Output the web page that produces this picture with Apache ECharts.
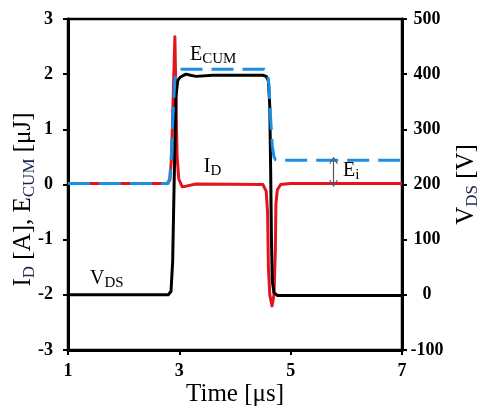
<!DOCTYPE html>
<html>
<head>
<meta charset="utf-8">
<script src="https://cdn.jsdelivr.net/npm/echarts@6/dist/echarts.min.js"></script>
<style>
  html, body { margin: 0; padding: 0; background: #fff; }
  #chart { width: 480px; height: 415px; }
</style>
</head>
<body>
<div id="chart"></div>
<script>
// Drain current I_D [A] during turn-on / turn-off (time in µs)
const idTime   = [1.0, 2.78, 2.83, 2.86, 2.89, 2.92, 2.94, 2.96, 2.99, 3.05, 3.12, 3.3, 4.5, 4.53, 4.56, 4.585, 4.60, 4.625, 4.665, 4.70, 4.725, 4.735, 4.76, 4.82, 5.0, 7.0];
const idValues = [0.02, 0.02, 0.08, 0.5, 1.6, 2.68, 1.5, 0.5, 0.1, -0.04, -0.03, 0.01, 0.0, -0.03, -0.12, -0.5, -1.5, -2.0, -2.2, -2.0, -1.2, -0.35, -0.1, 0.0, 0.02, 0.02];

// Drain-source voltage V_DS [V]
const vdsTime   = [1.0, 2.80, 2.85, 2.88, 2.91, 2.94, 2.97, 3.01, 3.06, 3.12, 3.2, 3.3, 3.6, 4.0, 4.5, 4.56, 4.60, 4.625, 4.64, 4.655, 4.67, 4.70, 4.76, 5.0, 7.0];
const vdsValues = [0, 0, 6, 60, 220, 360, 388, 394, 397, 400, 398, 396, 398, 398, 398, 396, 388, 340, 230, 100, 25, 4, -1, -1, -1];

// Cumulative switching energy E_CUM [µJ]
const ecumTime   = [1.0, 2.80, 2.83, 2.86, 2.89, 2.92, 2.95, 2.99, 3.04, 3.1, 4.0, 4.53, 4.58, 4.61, 4.64, 4.67, 4.70, 4.73, 4.78, 7.0];
const ecumValues = [0.02, 0.02, 0.12, 0.6, 1.35, 1.9, 2.03, 2.08, 2.09, 2.09, 2.09, 2.09, 2.04, 1.8, 1.2, 0.7, 0.5, 0.45, 0.44, 0.44];

// Ei marker: time and the two levels it spans (E_CUM residue vs. I_D baseline)
const eiMarkTime = 5.77;
const eiMarkFrom = 0.44;
const eiMarkTo   = 0.02;

// Axis ranges [min, max, interval]
const timeRange = [1, 7, 2];
const leftRange = [-3, 3, 1];
const rightRange = [-100, 500, 100];

const pair = (xs, ys) => xs.map((x, i) => [x, ys[i]]);

const SERIF = '"Liberation Serif", "Times New Roman", serif';
const RED = '#e3141c';
const BLUE = '#1b8fe6';
const SUBCOL = '#1c2550';

const tickLabel = {
  fontFamily: SERIF, fontWeight: 'bold', fontSize: 18, color: '#000'
};

// Rich-text styles for a main glyph followed by a lowered subscript
function richSet(main, sub, color, subColor) {
  return {
    m: { fontFamily: SERIF, fontSize: main, lineHeight: main + 4, verticalAlign: 'middle', color: color },
    s: { fontFamily: SERIF, fontSize: sub, verticalAlign: 'bottom', color: subColor || color }
  };
}

const chart = echarts.init(document.getElementById('chart'), null, { renderer: 'canvas' });

const option = {
  animation: false,
  backgroundColor: '#fff',
  grid: {
    left: 68, right: 78, top: 19, bottom: 65,
    outerBoundsMode: 'none',
    containLabel: false,
    show: true, borderColor: '#000', borderWidth: 2.5
  },
  xAxis: {
    type: 'value',
    min: timeRange[0], max: timeRange[1], interval: timeRange[2],
    name: 'Time [μs]',
    nameLocation: 'middle',
    nameGap: 32,
    nameMoveOverlap: false,
    nameTextStyle: { fontFamily: SERIF, fontSize: 25, color: '#000' },
    axisLine: { show: true, onZero: false, lineStyle: { color: '#000', width: 3 } },
    axisTick: { show: true, inside: false, length: 5, lineStyle: { color: '#000', width: 2 } },
    axisLabel: Object.assign({ margin: 12 }, tickLabel),
    splitLine: { show: false }
  },
  yAxis: [
    {
      type: 'value',
      position: 'left',
      min: leftRange[0], max: leftRange[1], interval: leftRange[2],
      name: '{m|I}{s|D}{m| [A], E}{s|CUM}{m| [μJ]}',
      nameLocation: 'middle',
      nameRotate: 90,
      nameGap: 30,
      nameMoveOverlap: false,
      nameTextStyle: { padding: [0, 30, 0, 0], rich: richSet(25, 17, '#000', SUBCOL) },
      axisLine: { show: true, onZero: false, lineStyle: { color: '#000', width: 3 } },
      axisTick: { show: true, inside: false, length: 5, lineStyle: { color: '#000', width: 2 } },
      axisLabel: Object.assign({ margin: 15 }, tickLabel),
      splitLine: { show: false }
    },
    {
      type: 'value',
      position: 'right',
      min: rightRange[0], max: rightRange[1], interval: rightRange[2],
      name: '{m|V}{s|DS}{m| [V]}',
      nameLocation: 'middle',
      nameRotate: 90,
      nameGap: 36,
      nameTextStyle: { rich: richSet(25, 17, '#000', SUBCOL) },
      axisLine: { show: true, onZero: false, lineStyle: { color: '#000', width: 3 } },
      axisTick: { show: true, inside: false, length: 5, lineStyle: { color: '#000', width: 2 } },
      axisLabel: Object.assign({ margin: 25, align: 'center' }, tickLabel),
      splitLine: { show: false }
    }
  ],
  series: [
    {
      name: 'I_D',
      type: 'line',
      yAxisIndex: 0,
      data: pair(idTime, idValues),
      showSymbol: false,
      lineStyle: { color: RED, width: 3, join: 'round' },
      z: 2
    },
    {
      name: 'V_DS',
      type: 'line',
      yAxisIndex: 1,
      data: pair(vdsTime, vdsValues),
      showSymbol: false,
      lineStyle: { color: '#000', width: 3, join: 'round' },
      z: 3
    },
    {
      name: 'E_CUM',
      type: 'line',
      yAxisIndex: 0,
      data: pair(ecumTime, ecumValues),
      showSymbol: false,
      lineStyle: { color: BLUE, width: 3, type: [22, 9], cap: 'butt', join: 'round' },
      z: 4,
      markLine: {
        silent: true,
        symbol: ['path://M0,10 L5,0 L10,10 L8.6,10 L5,2.8 L1.4,10 Z', 'path://M0,10 L5,0 L10,10 L8.6,10 L5,2.8 L1.4,10 Z'],
        symbolSize: [9, 7],
        label: { show: false },
        lineStyle: { color: '#555', width: 1.2, type: 'solid' },
        data: [[
          { coord: [eiMarkTime, eiMarkFrom] },
          { coord: [eiMarkTime, eiMarkTo] }
        ]]
      }
    }
  ]
};

chart.setOption(option);

// In-plot labels, anchored in data units of the left axis
const annotations = [
  { main: 'E', sub: 'CUM', at: [3.19, 2.355], color: BLUE, subColor: BLUE },
  { main: 'I', sub: 'D',   at: [3.44, 0.317], color: RED,  subColor: RED },
  { main: 'V', sub: 'DS',  at: [1.395, -1.70], color: '#000', subColor: SUBCOL },
  { main: 'E', sub: 'i',   at: [5.94, 0.245], color: BLUE, subColor: BLUE }
];

chart.setOption({
  graphic: annotations.map(a => {
    const p = chart.convertToPixel({ xAxisIndex: 0, yAxisIndex: 0 }, a.at);
    return {
      type: 'text',
      x: p[0],
      y: p[1],
      z: 10,
      style: {
        text: '{m|' + a.main + '}{s|' + a.sub + '}',
        align: 'left',
        verticalAlign: 'middle',
        rich: richSet(20, 15, a.color, a.subColor)
      }
    };
  })
});
</script>
</body>
</html>
